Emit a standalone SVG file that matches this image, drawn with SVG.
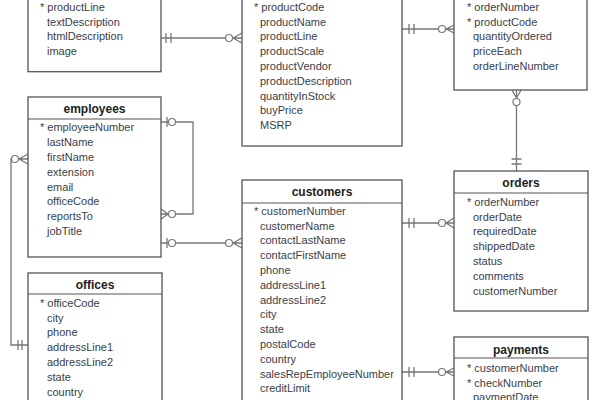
<svg xmlns="http://www.w3.org/2000/svg" width="600" height="400" viewBox="0 0 600 400">
<style>
.box{fill:#fff;stroke:#555;stroke-width:1.3}
.hl{stroke:#555;stroke-width:1.2}
.t{font-family:"Liberation Sans",Arial,sans-serif;font-size:11px;fill:#3a3e48}
.h{font-family:"Liberation Sans",Arial,sans-serif;font-size:12px;font-weight:bold;fill:#222;text-anchor:middle}
.c{stroke:#777;stroke-width:1.3;fill:none}
.o{fill:#fff;stroke:#777;stroke-width:1.2}
</style>
<rect width="600" height="400" fill="#fff"/>

<g id="connectors">
  <!-- productlines - products -->
  <path class="c" d="M161,38H242M166,33V43M171,33V43M233,38L242,33M233,38L242,43"/>
  <circle class="o" cx="229" cy="38" r="3.5"/>
  <!-- products - orderdetails -->
  <path class="c" d="M402,29H454M409,24V34M414,24V34M446,29L454,25M446,29L454,33"/>
  <circle class="o" cx="442" cy="29" r="3.5"/>
  <!-- orderdetails - orders -->
  <path class="c" d="M516.5,90V171M511.5,159H521.5M511.5,164H521.5M516.5,98L512,90M516.5,98L521,90"/>
  <circle class="o" cx="516.5" cy="102" r="3.5"/>
  <!-- employees self -->
  <path class="c" d="M161,122H193V214H161M167,117V127M161,209L168,214L161,219"/>
  <circle class="o" cx="172" cy="122" r="3.5"/>
  <circle class="o" cx="172" cy="214" r="3.5"/>
  <!-- employees - customers -->
  <path class="c" d="M161,243H242M167,238V248M233,243L242,238M233,243L242,248"/>
  <circle class="o" cx="172" cy="243" r="3.5"/>
  <circle class="o" cx="229" cy="243" r="3.5"/>
  <!-- offices - employees -->
  <path class="c" d="M28,345H11V159H28M18,340V350M22,340V350M19,159L28,154M19,159L28,164"/>
  <circle class="o" cx="15" cy="159" r="3.5"/>
  <!-- customers - orders -->
  <path class="c" d="M402,223H454M409,218V228M414,218V228M446,223L454,218M446,223L454,228"/>
  <circle class="o" cx="442" cy="223" r="3.5"/>
  <!-- customers - payments -->
  <path class="c" d="M402,372H454M409,367V377M414,367V377M446,372L454,368M446,372L454,376"/>
  <circle class="o" cx="442" cy="372" r="3.5"/>
</g>

<g id="productlines">
  <rect class="box" x="28" y="-40" width="133" height="111.7"/>
  <text class="t" x="40" y="10.7">* productLine</text>
  <text class="t" x="47" y="25.5">textDescription</text>
  <text class="t" x="47" y="40.3">htmlDescription</text>
  <text class="t" x="47" y="55.1">image</text>
</g>

<g id="products">
  <rect class="box" x="242" y="-40" width="160" height="186"/>
  <text class="t" x="254" y="10.7">* productCode</text>
  <text class="t" x="260" y="25.5">productName</text>
  <text class="t" x="260" y="40.3">productLine</text>
  <text class="t" x="260" y="55.1">productScale</text>
  <text class="t" x="260" y="69.9">productVendor</text>
  <text class="t" x="260" y="84.7">productDescription</text>
  <text class="t" x="260" y="99.5">quantityInStock</text>
  <text class="t" x="260" y="114.3">buyPrice</text>
  <text class="t" x="260" y="129.1">MSRP</text>
</g>

<g id="orderdetails">
  <rect class="box" x="454" y="-40" width="133" height="130"/>
  <text class="t" x="467" y="10.7">* orderNumber</text>
  <text class="t" x="467" y="25.5">* productCode</text>
  <text class="t" x="473" y="40.3">quantityOrdered</text>
  <text class="t" x="473" y="55.1">priceEach</text>
  <text class="t" x="473" y="69.9">orderLineNumber</text>
</g>

<g id="employees">
  <rect class="box" x="28" y="97" width="133" height="160"/>
  <line class="hl" x1="28" y1="119" x2="161" y2="119"/>
  <text class="h" x="94.5" y="112.5">employees</text>
  <text class="t" x="40" y="131.3">* employeeNumber</text>
  <text class="t" x="47" y="146.1">lastName</text>
  <text class="t" x="47" y="160.9">firstName</text>
  <text class="t" x="47" y="175.7">extension</text>
  <text class="t" x="47" y="190.5">email</text>
  <text class="t" x="47" y="205.3">officeCode</text>
  <text class="t" x="47" y="220.1">reportsTo</text>
  <text class="t" x="47" y="234.9">jobTitle</text>
</g>

<g id="offices">
  <rect class="box" x="28" y="273" width="134" height="200"/>
  <line class="hl" x1="28" y1="294" x2="162" y2="294"/>
  <text class="h" x="95" y="288.5">offices</text>
  <text class="t" x="40" y="306.7">* officeCode</text>
  <text class="t" x="47" y="321.5">city</text>
  <text class="t" x="47" y="336.3">phone</text>
  <text class="t" x="47" y="351.1">addressLine1</text>
  <text class="t" x="47" y="365.9">addressLine2</text>
  <text class="t" x="47" y="380.7">state</text>
  <text class="t" x="47" y="395.5">country</text>
</g>

<g id="customers">
  <rect class="box" x="242" y="180" width="160" height="300"/>
  <line class="hl" x1="242" y1="203" x2="402" y2="203"/>
  <text class="h" x="322" y="196">customers</text>
  <text class="t" x="254" y="214.7">* customerNumber</text>
  <text class="t" x="260" y="229.5">customerName</text>
  <text class="t" x="260" y="244.3">contactLastName</text>
  <text class="t" x="260" y="259.1">contactFirstName</text>
  <text class="t" x="260" y="273.9">phone</text>
  <text class="t" x="260" y="288.7">addressLine1</text>
  <text class="t" x="260" y="303.5">addressLine2</text>
  <text class="t" x="260" y="318.3">city</text>
  <text class="t" x="260" y="333.1">state</text>
  <text class="t" x="260" y="347.9">postalCode</text>
  <text class="t" x="260" y="362.7">country</text>
  <text class="t" x="260" y="377.5">salesRepEmployeeNumber</text>
  <text class="t" x="260" y="392.3">creditLimit</text>
</g>

<g id="orders">
  <rect class="box" x="454" y="171" width="134" height="140"/>
  <line class="hl" x1="454" y1="193" x2="588" y2="193"/>
  <text class="h" x="521" y="186.5">orders</text>
  <text class="t" x="467" y="205.7">* orderNumber</text>
  <text class="t" x="473" y="220.5">orderDate</text>
  <text class="t" x="473" y="235.3">requiredDate</text>
  <text class="t" x="473" y="250.1">shippedDate</text>
  <text class="t" x="473" y="264.9">status</text>
  <text class="t" x="473" y="279.7">comments</text>
  <text class="t" x="473" y="294.5">customerNumber</text>
</g>

<g id="payments">
  <rect class="box" x="454" y="337" width="134" height="100"/>
  <line class="hl" x1="454" y1="358" x2="588" y2="358"/>
  <text class="h" x="521" y="353.5">payments</text>
  <text class="t" x="467" y="371.7">* customerNumber</text>
  <text class="t" x="467" y="386.5">* checkNumber</text>
  <text class="t" x="473" y="401.3">paymentDate</text>
</g>
</svg>
